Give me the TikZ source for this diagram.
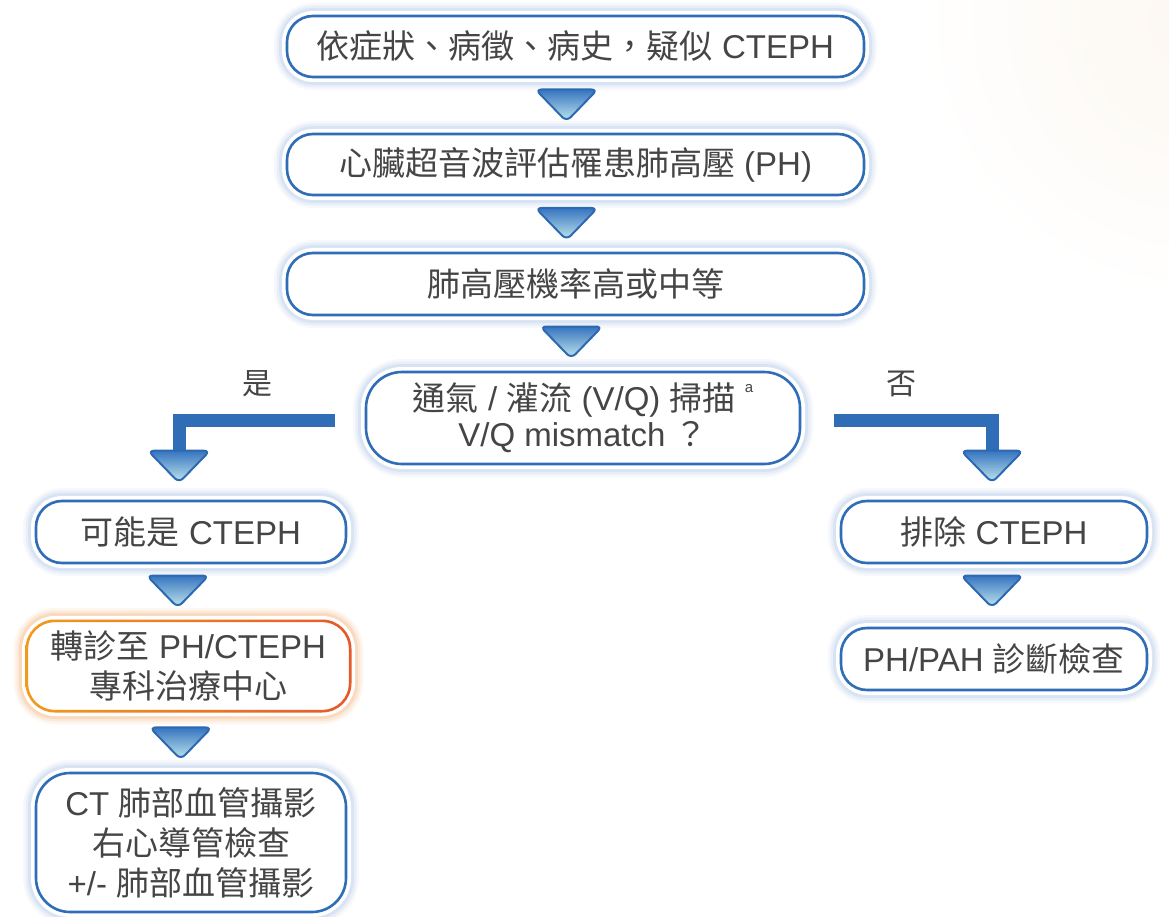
\documentclass[tikz,border=0pt]{standalone}
\usepackage{fontspec}
\setmainfont{Liberation Sans}
\newfontfamily\cjk{Noto Sans CJK TC}
\usetikzlibrary{calc}
\definecolor{bblue}{HTML}{2F6DB6}
\definecolor{haloc}{HTML}{B9CDEA}
\definecolor{haloo}{HTML}{F6C49A}
\definecolor{txt}{HTML}{454545}
\definecolor{triT}{HTML}{3674C0}
\definecolor{triB}{HTML}{C2E8EC}
\definecolor{triD}{HTML}{2C69B2}
\definecolor{orA}{HTML}{F29A1E}
\definecolor{orB}{HTML}{E5592A}
\definecolor{warm}{HTML}{FCF7F0}
\tikzset{
  box/.style={draw=bblue, line width=2.6pt, fill=white, text=txt, align=center,
    inner sep=0pt, rounded corners=26pt, font=\fontsize{33}{40}\selectfont,
    preaction={draw=haloc, line width=26pt, draw opacity=0.12},
    preaction={draw=haloc, line width=21pt, draw opacity=0.2},
    preaction={draw=haloc, line width=16pt, draw opacity=0.35},
    preaction={draw=white, line width=10pt}},
  orbox/.style={draw=none, fill=white, text=txt, align=center,
    inner sep=0pt, rounded corners=28pt, font=\fontsize{33}{40}\selectfont,
    preaction={draw=haloo, line width=26pt, draw opacity=0.15},
    preaction={draw=haloo, line width=21pt, draw opacity=0.25},
    preaction={draw=haloo, line width=16pt, draw opacity=0.4},
    preaction={draw=white, line width=10pt}},
  bar/.style={draw=bblue, line width=13pt, line join=miter, line cap=butt},
  lbl/.style={text=txt, font=\fontsize{30}{34}\selectfont\cjk, inner sep=0pt},
  pics/tri/.style={code={
    \shade[top color=triT, bottom color=triB, draw=triD, line width=2pt,
      rounded corners=6pt] (-31,0) -- (31,0) -- (0,32) -- cycle;}}
}
\begin{document}
\begin{tikzpicture}[x=1pt,y=-1pt]
\useasboundingbox (0,0) rectangle (1169,917);
\fill[white] (0,0) rectangle (1169,917);
\begin{scope}
\clip (0,0) rectangle (1169,917);
\shade[inner color=warm, outer color=white] (1200,20) circle (280);
\end{scope}

% main column
\node[box, minimum width=577pt, minimum height=61pt] (b1) at (575.5,46.5)
  {{\cjk 依症狀、病徵、病史，疑似} CTEPH};
\node[box, minimum width=577pt, minimum height=61pt] (b2) at (575.5,164.5)
  {{\cjk 心臟超音波評估罹患肺高壓} (PH)};
\node[box, minimum width=577pt, minimum height=62pt] (b3) at (575.5,284)
  {{\cjk 肺高壓機率高或中等}};
\node[box, rounded corners=36pt, minimum width=434pt, minimum height=92pt,
  font=\fontsize{33}{36}\selectfont] (b4) at (583,418)
  {{\cjk 通氣} / {\cjk 灌流} (V/Q) {\cjk 掃描} \raisebox{0.55em}{\fontsize{15}{15}\selectfont a}\\
   V/Q mismatch {\cjk ？}};

% left column
\node[box, minimum width=310pt, minimum height=62pt] (b5) at (191,532)
  {{\cjk 可能是} CTEPH};
\node[orbox, minimum width=323pt, minimum height=90pt] (b6) at (188.5,666)
  {{\cjk 轉診至} PH/CTEPH\\{\cjk 專科治療中心}};
\shade[left color=orA, right color=orB, even odd rule]
  [rounded corners=29.3pt] ([shift={(-1.3pt,-1.3pt)}]b6.south west) rectangle ([shift={(1.3pt,1.3pt)}]b6.north east)
  [rounded corners=26.7pt] ([shift={(1.3pt,1.3pt)}]b6.south west) rectangle ([shift={(-1.3pt,-1.3pt)}]b6.north east);
\node[box, minimum width=310pt, minimum height=139pt, rounded corners=34pt] (b7) at (191,842.5)
  {CT {\cjk 肺部血管攝影}\\{\cjk 右心導管檢查}\\+/- {\cjk 肺部血管攝影}};

% right column
\node[box, minimum width=306pt, minimum height=62pt] (b8) at (994,532)
  {{\cjk 排除} CTEPH};
\node[box, minimum width=306pt, minimum height=62pt] (b9) at (994,659)
  {PH/PAH {\cjk 診斷檢查}};

% labels
\node[lbl] (yes) at (257,384) {是};
\node[lbl] (no) at (901,384) {否};

% connectors (triangles)
\coordinate (m1) at ($(b1.south)!0.5!(b2.north)$);
\coordinate (m2) at ($(b2.south)!0.5!(b3.north)$);
\coordinate (m3) at ($(b3.south)!0.5!(b4.north)$);
\coordinate (m5) at ($(b5.south)!0.5!(b6.north)$);
\coordinate (m6) at ($(b6.south)!0.5!(b7.north)$);
\coordinate (m8) at ($(b8.south)!0.5!(b9.north)$);
\pic at ([shift={(-9pt,16pt)}]m1) {tri};
\pic at ([shift={(-9pt,16pt)}]m2) {tri};
\pic at ([shift={(-8pt,17pt)}]m3) {tri};
\pic at ([shift={(-12pt,17pt)}]m5) {tri};
\pic at ([shift={(-9pt,14pt)}]m6) {tri};
\pic at ([shift={(-2pt,20pt)}]m8) {tri};

% elbow connectors
\coordinate (tL) at ([shift={(-12pt,49pt)}]b5.north);
\coordinate (tR) at ([shift={(-2pt,49pt)}]b8.north);
\draw[bar] ([shift={(-30pt,-2pt)}]b4.west) -| (tL);
\draw[bar] ([shift={(33pt,-2pt)}]b4.east) -| (tR);
\pic at (tL) {tri};
\pic at (tR) {tri};
\end{tikzpicture}
\end{document}
